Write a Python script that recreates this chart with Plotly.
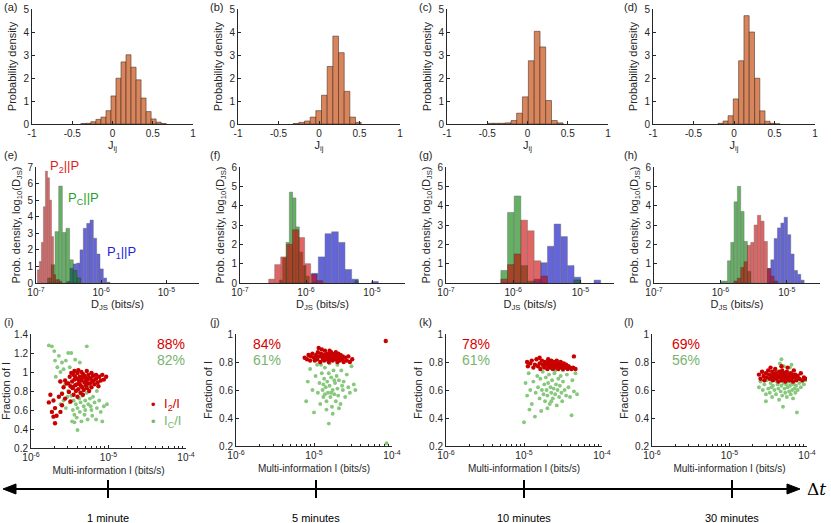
import numpy as np
import plotly.graph_objects as go

W, H = 831, 523
FONT = "Liberation Sans, Arial, sans-serif"
INK = "#262626"

# ---------------- data ----------------
# (a)-(d) histograms of the couplings J_ij: bin centres and probability density
a_bins = [-0.362, -0.300, -0.238, -0.175, -0.113, -0.050, 0.012, 0.074, 0.137, 0.199,
          0.262, 0.324, 0.386, 0.449, 0.511, 0.574, 0.636]
a_dens = [0.02, 0.03, 0.10, 0.20, 0.30, 0.58, 1.22, 1.99, 2.70, 3.01,
          2.47, 1.92, 1.13, 0.54, 0.22, 0.08, 0.02]
b_bins = [-0.285, -0.214, -0.144, -0.074, -0.004, 0.066, 0.136, 0.206, 0.276, 0.346, 0.416, 0.486]
b_dens = [0.02, 0.07, 0.13, 0.30, 0.58, 1.25, 2.50, 3.82, 3.10, 1.42, 0.30, 0.07]
c_bins = [-0.454, -0.386, -0.315, -0.241, -0.169, -0.099, -0.027, 0.047, 0.120, 0.190,
          0.262, 0.334, 0.406]
c_dens = [0.03, 0.03, 0.03, 0.05, 0.15, 0.47, 1.18, 2.75, 4.03, 3.35, 1.02, 0.15, 0.05]
d_bins = [-0.165, -0.103, -0.041, 0.023, 0.089, 0.155, 0.221, 0.287, 0.351, 0.413, 0.476, 0.536]
d_dens = [0.03, 0.13, 0.36, 1.09, 2.75, 4.71, 4.00, 1.99, 0.57, 0.12, 0.03, 0.01]

# (e)-(h) histograms of log10(D_JS): P1||P (blue), Pc||P (green), P2||P (red)
e_p1_bins = [-6.504, -6.453, -6.402, -6.351, -6.300, -6.249, -6.197, -6.146, -6.095,
             -6.044, -5.993, -5.942, -5.891]
e_p1_dens = [0.10, 0.90, 1.15, 1.20, 2.00, 3.30, 3.60, 3.80, 2.70, 1.75, 0.85, 0.30, 0.05]
e_pc_bins = [-6.793, -6.737, -6.680, -6.624, -6.568, -6.512, -6.456, -6.399, -6.343]
e_pc_dens = [0.30, 1.10, 3.10, 5.85, 3.05, 3.30, 1.40, 0.75, 0.30]
e_p2_bins = [-6.964, -6.933, -6.902, -6.871, -6.840, -6.809, -6.778, -6.747, -6.716,
             -6.685, -6.654, -6.623]
e_p2_dens = [0.80, 1.30, 2.45, 4.60, 6.75, 6.35, 5.00, 2.80, 0.50, 0.20, 0.20, 0.10]

f_p1_bins = [-5.864, -5.763, -5.662, -5.561, -5.460, -5.359, -5.258, -4.955]
f_p1_dens = [0.50, 1.35, 2.55, 2.65, 2.10, 0.70, 0.20, 0.08]
f_pc_bins = [-6.379, -6.328, -6.278, -6.227, -6.177, -6.126, -6.076, -6.025, -5.975, -5.232]
f_pc_dens = [0.15, 1.30, 2.10, 4.70, 4.40, 2.90, 1.60, 0.90, 0.35, 0.12]
f_p2_bins = [-6.520, -6.429, -6.338, -6.247, -6.157, -6.066, -5.975, -5.884, -5.793]
f_p2_dens = [0.20, 0.95, 1.35, 2.00, 2.75, 2.35, 1.00, 0.45, 0.12]

g_p1_bins = [-5.639, -5.540, -5.441, -5.342, -5.243, -5.144, -5.045, -4.748]
g_p1_dens = [0.20, 1.05, 1.90, 3.05, 2.40, 0.90, 0.30, 0.15]
g_pc_bins = [-6.134, -6.035, -5.936, -5.837, -5.738, -5.045]
g_pc_dens = [0.65, 3.65, 4.50, 0.90, 0.10, 0.15]
g_p2_bins = [-6.134, -6.035, -5.936, -5.837, -5.738, -5.639, -5.540]
g_p2_dens = [0.20, 0.95, 1.50, 3.25, 2.70, 1.15, 0.35]

h_p1_bins = [-5.266, -5.216, -5.166, -5.116, -5.065, -5.015, -4.965, -4.915, -4.864,
             -4.814, -4.764]
h_p1_dens = [0.75, 1.20, 2.30, 2.85, 3.10, 3.40, 2.50, 1.50, 0.65, 0.45, 0.15]
h_pc_bins = [-5.970, -5.920, -5.869, -5.819, -5.769, -5.719, -5.668, -5.618, -5.568]
h_pc_dens = [0.10, 0.10, 1.15, 2.10, 4.20, 5.00, 3.70, 2.15, 0.60]
h_p2_bins = [-5.769, -5.719, -5.668, -5.618, -5.568, -5.518, -5.467, -5.417, -5.367,
             -5.317, -5.266, -5.216, -5.166]
h_p2_dens = [0.10, 0.25, 0.80, 1.10, 1.95, 2.10, 3.00, 3.50, 3.20, 2.15, 0.75, 0.35, 0.10]

# (i)-(l) scatter: (log10 multi-information, fraction of I)
i_i2 = [(-5.77, 0.68), (-5.75, 0.76), (-5.71, 0.70), (-5.69, 0.62), (-5.73, 0.58), (-5.71, 0.53),
        (-5.67, 0.54), (-5.69, 0.46), (-5.62, 0.58), (-5.60, 0.65), (-5.64, 0.74), (-5.60, 0.77),
        (-5.56, 0.72), (-5.58, 0.84), (-5.54, 0.88), (-5.62, 0.90), (-5.56, 0.91), (-5.51, 0.79),
        (-5.49, 0.69), (-5.47, 0.84), (-5.50, 0.95), (-5.47, 0.90), (-5.45, 0.97), (-5.43, 0.86),
        (-5.41, 0.93), (-5.40, 0.99), (-5.38, 0.88), (-5.37, 0.95), (-5.35, 0.91), (-5.34, 0.84),
        (-5.33, 0.98), (-5.31, 0.89), (-5.30, 0.94), (-5.29, 0.86), (-5.27, 0.92), (-5.26, 0.97),
        (-5.24, 0.88), (-5.23, 0.93), (-5.21, 0.90), (-5.20, 0.96), (-5.18, 0.87), (-5.16, 0.93),
        (-5.14, 0.89), (-5.12, 0.95), (-5.10, 0.91), (-5.46, 0.83), (-5.42, 0.80), (-5.39, 0.82),
        (-5.36, 0.78), (-5.32, 0.81), (-5.28, 0.83), (-5.25, 0.80), (-5.22, 0.84), (-5.48, 0.99),
        (-5.44, 1.01), (-5.39, 1.02), (-5.35, 1.00), (-5.28, 1.01), (-5.22, 0.99), (-5.52, 0.88),
        (-5.49, 0.85), (-5.44, 0.92), (-5.41, 0.87), (-5.36, 0.86), (-5.31, 0.96), (-5.27, 0.88),
        (-5.19, 0.91), (-5.16, 0.97), (-5.13, 0.85), (-5.06, 0.92), (-5.03, 0.95), (-5.08, 0.97),
        (-5.45, 0.76), (-5.40, 0.74), (-5.33, 0.76), (-5.38, 0.91), (-5.34, 0.94), (-5.30, 0.90),
        (-5.25, 0.94), (-5.43, 0.95)]
i_ic = [(-5.77, 1.28), (-5.73, 1.27), (-5.70, 1.22), (-5.64, 1.17), (-5.52, 1.20), (-5.48, 1.20),
        (-5.28, 1.27), (-5.69, 1.12), (-5.60, 1.10), (-5.55, 1.12), (-5.43, 1.13), (-5.37, 1.10),
        (-5.66, 1.05), (-5.62, 1.00), (-5.58, 1.03), (-5.50, 1.05), (-5.68, 0.95), (-5.63, 0.90),
        (-5.56, 0.87), (-5.52, 0.80), (-5.48, 0.75), (-5.45, 0.70), (-5.42, 0.66), (-5.40, 0.62),
        (-5.38, 0.72), (-5.36, 0.68), (-5.34, 0.75), (-5.32, 0.64), (-5.30, 0.70), (-5.28, 0.78),
        (-5.26, 0.66), (-5.24, 0.72), (-5.22, 0.60), (-5.20, 0.74), (-5.18, 0.68), (-5.15, 0.62),
        (-5.12, 0.70), (-5.10, 0.58), (-5.06, 0.64), (-5.02, 0.66), (-5.50, 0.68), (-5.46, 0.60),
        (-5.44, 0.55), (-5.41, 0.52), (-5.37, 0.58), (-5.35, 0.48), (-5.31, 0.55), (-5.27, 0.50),
        (-5.21, 0.54), (-5.16, 0.50), (-5.08, 0.48), (-5.47, 0.48), (-5.40, 0.39), (-5.55, 0.62),
        (-5.58, 0.70), (-5.62, 0.66), (-5.53, 0.74), (-5.60, 0.78), (-5.33, 0.84), (-5.25, 0.86),
        (-5.15, 0.80), (-5.20, 0.98), (-5.44, 0.47), (-5.30, 0.60), (-5.23, 0.64), (-5.38, 0.80)]

j_i2 = [(-5.12, 0.83), (-5.09, 0.82), (-5.07, 0.85), (-5.05, 0.81), (-5.04, 0.84), (-5.02, 0.86),
        (-5.00, 0.83), (-4.99, 0.81), (-4.97, 0.85), (-4.96, 0.82), (-4.95, 0.87), (-4.93, 0.84),
        (-4.92, 0.80), (-4.91, 0.86), (-4.89, 0.83), (-4.88, 0.85), (-4.87, 0.81), (-4.86, 0.88),
        (-4.85, 0.84), (-4.84, 0.82), (-4.83, 0.86), (-4.82, 0.83), (-4.81, 0.80), (-4.80, 0.85),
        (-4.79, 0.82), (-4.78, 0.87), (-4.77, 0.84), (-4.76, 0.81), (-4.75, 0.85), (-4.74, 0.83),
        (-4.73, 0.86), (-4.72, 0.82), (-4.71, 0.84), (-4.70, 0.80), (-4.69, 0.86), (-4.68, 0.83),
        (-4.67, 0.81), (-4.66, 0.85), (-4.64, 0.82), (-4.63, 0.84), (-4.62, 0.80), (-4.60, 0.83),
        (-4.58, 0.81), (-4.56, 0.84), (-4.54, 0.80), (-4.51, 0.82), (-4.90, 0.89), (-4.94, 0.90),
        (-4.80, 0.88), (-4.72, 0.87), (-4.98, 0.84), (-4.88, 0.82), (-4.84, 0.85), (-4.76, 0.83),
        (-4.70, 0.82), (-4.66, 0.83), (-4.08, 0.95)]
j_ic = [(-5.10, 0.52), (-5.08, 0.66), (-5.05, 0.75), (-5.02, 0.60), (-5.00, 0.44), (-4.98, 0.70),
        (-4.96, 0.78), (-4.95, 0.58), (-4.93, 0.65), (-4.92, 0.50), (-4.90, 0.72), (-4.89, 0.60),
        (-4.88, 0.55), (-4.87, 0.68), (-4.86, 0.76), (-4.85, 0.62), (-4.84, 0.52), (-4.83, 0.66),
        (-4.82, 0.58), (-4.81, 0.72), (-4.80, 0.63), (-4.79, 0.55), (-4.78, 0.69), (-4.77, 0.48),
        (-4.76, 0.60), (-4.75, 0.74), (-4.74, 0.57), (-4.73, 0.65), (-4.72, 0.52), (-4.71, 0.70),
        (-4.70, 0.61), (-4.69, 0.56), (-4.68, 0.67), (-4.66, 0.50), (-4.65, 0.74), (-4.63, 0.60),
        (-4.62, 0.66), (-4.60, 0.55), (-4.58, 0.71), (-4.56, 0.62), (-4.54, 0.58), (-4.52, 0.77),
        (-4.49, 0.64), (-4.47, 0.60), (-4.91, 0.78), (-4.80, 0.79), (-4.70, 0.78), (-4.84, 0.46),
        (-4.76, 0.43), (-4.68, 0.47), (-4.81, 0.36), (-4.07, 0.22), (-4.88, 0.64), (-4.78, 0.58),
        (-4.74, 0.67), (-4.86, 0.57), (-4.64, 0.63)]

k_i2 = [(-4.96, 0.80), (-4.95, 0.77), (-4.92, 0.79), (-4.90, 0.81), (-4.88, 0.76), (-4.86, 0.78),
        (-4.84, 0.82), (-4.82, 0.77), (-4.80, 0.79), (-4.79, 0.75), (-4.77, 0.81), (-4.76, 0.78),
        (-4.74, 0.76), (-4.73, 0.80), (-4.72, 0.78), (-4.70, 0.75), (-4.69, 0.82), (-4.68, 0.77),
        (-4.67, 0.79), (-4.66, 0.76), (-4.65, 0.81), (-4.64, 0.78), (-4.63, 0.75), (-4.62, 0.80),
        (-4.61, 0.77), (-4.60, 0.79), (-4.59, 0.76), (-4.58, 0.81), (-4.57, 0.78), (-4.56, 0.75),
        (-4.55, 0.79), (-4.54, 0.77), (-4.53, 0.80), (-4.52, 0.76), (-4.51, 0.78), (-4.50, 0.75),
        (-4.49, 0.79), (-4.48, 0.77), (-4.47, 0.76), (-4.46, 0.78), (-4.44, 0.75), (-4.43, 0.77),
        (-4.41, 0.76), (-4.39, 0.75), (-4.37, 0.76), (-4.34, 0.75), (-4.36, 0.84), (-4.80, 0.83),
        (-4.70, 0.79), (-4.62, 0.77), (-4.55, 0.76), (-4.68, 0.80), (-4.58, 0.78), (-4.75, 0.78),
        (-4.52, 0.79), (-4.64, 0.76)]
k_ic = [(-4.98, 0.65), (-4.96, 0.56), (-4.94, 0.72), (-4.92, 0.60), (-4.90, 0.50), (-4.88, 0.66),
        (-4.86, 0.41), (-4.85, 0.58), (-4.83, 0.70), (-4.82, 0.62), (-4.80, 0.54), (-4.79, 0.68),
        (-4.78, 0.45), (-4.77, 0.60), (-4.76, 0.73), (-4.75, 0.57), (-4.74, 0.64), (-4.73, 0.52),
        (-4.72, 0.69), (-4.71, 0.60), (-4.70, 0.56), (-4.69, 0.65), (-4.68, 0.71), (-4.67, 0.50),
        (-4.66, 0.62), (-4.65, 0.58), (-4.64, 0.67), (-4.63, 0.54), (-4.62, 0.61), (-4.61, 0.72),
        (-4.60, 0.57), (-4.59, 0.64), (-4.58, 0.49), (-4.57, 0.60), (-4.56, 0.68), (-4.55, 0.55),
        (-4.54, 0.63), (-4.53, 0.70), (-4.52, 0.58), (-4.51, 0.52), (-4.50, 0.66), (-4.48, 0.60),
        (-4.46, 0.56), (-4.45, 0.71), (-4.43, 0.62), (-4.41, 0.55), (-4.38, 0.67), (-4.36, 0.59),
        (-4.34, 0.72), (-4.32, 0.57), (-4.39, 0.42), (-5.00, 0.37), (-4.93, 0.46), (-4.70, 0.47),
        (-4.60, 0.74), (-4.50, 0.74), (-4.65, 0.52)]

l_i2 = [(-4.62, 0.71), (-4.60, 0.68), (-4.58, 0.73), (-4.56, 0.70), (-4.55, 0.67), (-4.53, 0.72),
        (-4.52, 0.69), (-4.50, 0.74), (-4.49, 0.71), (-4.48, 0.68), (-4.46, 0.70), (-4.45, 0.73),
        (-4.44, 0.67), (-4.43, 0.71), (-4.42, 0.69), (-4.41, 0.75), (-4.40, 0.72), (-4.39, 0.68),
        (-4.38, 0.70), (-4.37, 0.66), (-4.36, 0.73), (-4.35, 0.69), (-4.34, 0.71), (-4.33, 0.67),
        (-4.32, 0.74), (-4.31, 0.70), (-4.30, 0.68), (-4.29, 0.72), (-4.28, 0.66), (-4.27, 0.70),
        (-4.26, 0.73), (-4.25, 0.68), (-4.24, 0.71), (-4.23, 0.67), (-4.22, 0.69), (-4.21, 0.72),
        (-4.20, 0.68), (-4.19, 0.70), (-4.18, 0.66), (-4.17, 0.74), (-4.16, 0.69), (-4.15, 0.71),
        (-4.14, 0.67), (-4.12, 0.70), (-4.10, 0.68), (-4.08, 0.72), (-4.06, 0.67), (-4.04, 0.69),
        (-4.02, 0.68), (-4.47, 0.76), (-4.25, 0.76), (-4.33, 0.77), (-4.40, 0.70), (-4.28, 0.69),
        (-4.36, 0.70), (-4.22, 0.70), (-4.45, 0.70), (-4.31, 0.72), (-4.18, 0.71)]
l_ic = [(-4.62, 0.62), (-4.60, 0.66), (-4.57, 0.60), (-4.55, 0.64), (-4.53, 0.52), (-4.52, 0.67),
        (-4.50, 0.61), (-4.48, 0.58), (-4.47, 0.65), (-4.45, 0.55), (-4.44, 0.63), (-4.42, 0.60),
        (-4.41, 0.67), (-4.40, 0.57), (-4.38, 0.64), (-4.37, 0.61), (-4.36, 0.53), (-4.35, 0.66),
        (-4.34, 0.59), (-4.33, 0.63), (-4.32, 0.56), (-4.31, 0.48), (-4.30, 0.65), (-4.29, 0.61),
        (-4.28, 0.58), (-4.27, 0.64), (-4.26, 0.55), (-4.25, 0.62), (-4.24, 0.66), (-4.23, 0.59),
        (-4.22, 0.63), (-4.21, 0.57), (-4.20, 0.65), (-4.19, 0.60), (-4.18, 0.54), (-4.17, 0.64),
        (-4.16, 0.61), (-4.15, 0.58), (-4.14, 0.63), (-4.13, 0.44), (-4.12, 0.60), (-4.10, 0.65),
        (-4.08, 0.62), (-4.06, 0.66), (-4.04, 0.64), (-4.02, 0.67), (-4.33, 0.82), (-4.35, 0.79),
        (-4.30, 0.77), (-4.22, 0.76), (-4.42, 0.74), (-4.20, 0.78), (-4.53, 0.57), (-4.46, 0.62),
        (-4.39, 0.66)]

pct_i2 = ["88%", "84%", "78%", "69%"]
pct_ic = ["82%", "61%", "61%", "56%"]
time_labels = ["1 minute", "5 minutes", "10 minutes", "30 minutes"]

# ---------------- figure ----------------
fig = go.Figure()


def ax_names(n):
    return ("x" if n == 1 else f"x{n}"), ("y" if n == 1 else f"y{n}")


def set_axes(n, box, xopt, yopt):
    x0, x1, y0, y1 = box
    common = dict(showline=True, linecolor=INK, linewidth=1, ticks="inside", ticklen=3,
                  tickcolor=INK, showgrid=False, zeroline=False, mirror=False, automargin=False,
                  tickfont=dict(size=10, color=INK, family=FONT))
    xa, ya = ax_names(n)
    fig.layout["xaxis" if n == 1 else f"xaxis{n}"] = dict(
        domain=[x0 / W, x1 / W], anchor=ya, **common, **xopt)
    fig.layout["yaxis" if n == 1 else f"yaxis{n}"] = dict(
        domain=[1 - y1 / H, 1 - y0 / H], anchor=xa, **common, **yopt)


def hist(n, bins, dens, color, opacity=1.0, edge="rgba(60,40,30,0.9)"):
    xa, ya = ax_names(n)
    w = float(np.median(np.diff(bins)))
    fig.add_trace(go.Bar(x=bins, y=dens, width=w, xaxis=xa, yaxis=ya, opacity=opacity,
                         marker=dict(color=color, line=dict(color=edge, width=0.6)),
                         showlegend=False))


def scatter(n, pts, color, size):
    xa, ya = ax_names(n)
    xs, ys = zip(*pts)
    fig.add_trace(go.Scatter(x=xs, y=ys, mode="markers", xaxis=xa, yaxis=ya,
                             marker=dict(color=color, size=size, line=dict(width=0)),
                             showlegend=False))


def ann(text, x, y, size=11, color=INK, xanchor="center", family=FONT, yanchor="middle"):
    fig.add_annotation(text=text, x=x / W, y=1 - y / H, xref="paper", yref="paper",
                       showarrow=False, xanchor=xanchor, yanchor=yanchor,
                       font=dict(size=size, color=color, family=family))


ORANGE = "rgb(217,133,92)"
BLUE, GREEN, RED = "rgb(0,0,195)", "rgb(0,125,0)", "rgb(205,0,0)"
RED_PT, GREEN_PT = "rgb(200,0,0)", "rgb(135,200,125)"
RED_TXT, GREEN_TXT = "rgb(215,0,0)", "rgb(120,180,110)"
TFONT = dict(size=11, family=FONT, color=INK)

# top row
top_boxes = [(32, 193, 9, 124), (238, 400, 9, 124), (447, 608, 9, 124), (653, 815, 9, 124)]
top_data = [(a_bins, a_dens), (b_bins, b_dens), (c_bins, c_dens), (d_bins, d_dens)]
for k, (box, (bins, dens)) in enumerate(zip(top_boxes, top_data)):
    n = k + 1
    hist(n, bins, dens, ORANGE)
    set_axes(n, box,
             dict(range=[-1, 1], tickvals=[-1, -0.5, 0, 0.5, 1],
                  ticktext=["-1", "-0.5", "0", "0.5", "1"],
                  title=dict(text="J<sub>ij</sub>", font=TFONT, standoff=0)),
             dict(range=[0, 5], tickvals=[0, 1, 2, 3, 4, 5],
                  title=dict(text="Probability density", font=TFONT, standoff=4)))

# middle row
mid_boxes = [(36, 199, 167, 283), (240, 405, 167, 283), (446, 614, 167, 283), (654, 820, 167, 283)]
mid_data = [
    (e_p1_bins, e_p1_dens, e_pc_bins, e_pc_dens, e_p2_bins, e_p2_dens),
    (f_p1_bins, f_p1_dens, f_pc_bins, f_pc_dens, f_p2_bins, f_p2_dens),
    (g_p1_bins, g_p1_dens, g_pc_bins, g_pc_dens, g_p2_bins, g_p2_dens),
    (h_p1_bins, h_p1_dens, h_pc_bins, h_pc_dens, h_p2_bins, h_p2_dens),
]
dec_text = ["10<sup>-7</sup>", "10<sup>-6</sup>", "10<sup>-5</sup>"]
for k, (box, dd) in enumerate(zip(mid_boxes, mid_data)):
    n = k + 5
    hist(n, dd[0], dd[1], BLUE, 0.6, "rgba(0,0,0,0.7)")
    hist(n, dd[2], dd[3], GREEN, 0.6, "rgba(0,0,0,0.7)")
    hist(n, dd[4], dd[5], RED, 0.6, "rgba(0,0,0,0.7)")
    ytop = 7 if k == 0 else 6
    set_axes(n, box,
             dict(range=[-7, -4.5], tickvals=[-7, -6, -5], ticktext=dec_text,
                  title=dict(text="D<sub>JS</sub> (bits/s)", font=TFONT, standoff=2)),
             dict(range=[0, ytop], tickvals=list(range(ytop + 1)),
                  title=dict(text="Prob. density, log<sub>10</sub>(D<sub>JS</sub>)",
                             font=TFONT, standoff=4)))

# bottom row
bot_boxes = [(31, 186, 334, 448), (236, 392, 334, 446), (446, 602, 334, 446), (652, 807, 334, 446)]
bot_data = [(i_i2, i_ic), (j_i2, j_ic), (k_i2, k_ic), (l_i2, l_ic)]
minor_vals = [e + np.log10(m) for e in (-6, -5) for m in range(2, 10)]
for k, (box, (red_pts, green_pts)) in enumerate(zip(bot_boxes, bot_data)):
    n = k + 9
    scatter(n, green_pts, GREEN_PT, 3.9)
    scatter(n, red_pts, RED_PT, 4.4)
    ytop = 1.4 if k == 0 else 1.0
    yv = [round(0.2 + 0.2 * s, 1) for s in range(int(round((ytop - 0.2) / 0.2)) + 1)]
    set_axes(n, box,
             dict(range=[-6, -4], tickvals=[-6, -5, -4],
                  ticktext=["10<sup>-6</sup>", "10<sup>-5</sup>", "10<sup>-4</sup>"],
                  minor=dict(tickmode="array", tickvals=minor_vals, ticks="inside",
                             ticklen=2, tickcolor=INK),
                  title=dict(text="Multi-information I (bits/s)",
                             font=dict(size=10, family=FONT, color=INK), standoff=4)),
             dict(range=[0.2, ytop], tickvals=yv, ticktext=[f"{v:g}" for v in yv],
                  title=dict(text="Fraction of I", font=TFONT, standoff=4)))

# panel letters
letters = "abcdefghijkl"
letter_x = [2, 208, 417, 622]
letter_y = [7, 155, 322]
for r in range(3):
    for c in range(4):
        ann(f"({letters[4 * r + c]})", letter_x[c], letter_y[r], size=11, xanchor="left")

# labels of panel (e)
ann("P<sub>2</sub>||P", 64, 166, size=13, color="rgb(220,30,30)")
ann("P<sub>C</sub>||P", 83, 199, size=13, color="rgb(40,160,40)")
ann("P<sub>1</sub>||P", 122, 253, size=13, color="rgb(30,30,220)")

# percentages
pct_x = [171, 267, 476, 686]
for k in range(4):
    ann(pct_i2[k], pct_x[k], 344, size=14, color=RED_TXT)
    ann(pct_ic[k], pct_x[k], 360, size=14, color=GREEN_TXT)

# legend of panel (i)
ann("•", 153, 404, size=13, color=RED_PT)
ann("I<sub>2</sub>/I", 162, 404, size=13, color=RED_TXT, xanchor="left")
ann("•", 153, 421, size=13, color=GREEN_TXT)
ann("I<sub>C</sub>/I", 162, 421, size=13, color=GREEN_TXT, xanchor="left")

# time axis along the bottom
AY = 489


def seg(x0, y0, x1, y1, w=2):
    fig.add_shape(type="line", xref="paper", yref="paper", x0=x0 / W, y0=1 - y0 / H,
                  x1=x1 / W, y1=1 - y1 / H, line=dict(color="black", width=w))


def tri(pts):
    path = "M " + " L ".join(f"{x / W:.5f},{1 - y / H:.5f}" for x, y in pts) + " Z"
    fig.add_shape(type="path", xref="paper", yref="paper", path=path,
                  fillcolor="black", line=dict(color="black", width=1))


seg(10, AY, 792, AY)
tri([(3, AY), (16, AY - 5), (16, AY + 5)])
tri([(800, AY), (787, AY - 5), (787, AY + 5)])
tick_x = [108, 316, 524, 732]
for tx, lab in zip(tick_x, time_labels):
    seg(tx, AY - 9, tx, AY + 9)
    ann(lab, tx, 518, size=11, color="black")
ann("Δ<i>t</i>", 816, AY, size=17, color="black", family="DejaVu Serif, serif")

fig.update_layout(width=W, height=H, margin=dict(l=0, r=0, t=0, b=0, autoexpand=False),
                  paper_bgcolor="white", plot_bgcolor="white", barmode="overlay",
                  font=dict(family=FONT, color=INK))

# the page's default 8px body margin would shift the whole figure
fig.write_html("out.html", config={"displayModeBar": False},
               post_script="document.body.style.margin='0';document.body.style.overflow='hidden';")
